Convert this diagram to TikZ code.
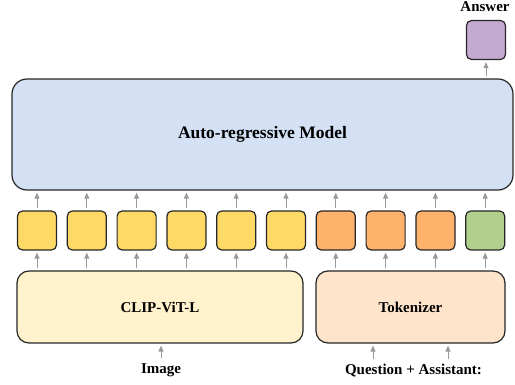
\documentclass[tikz,border=0pt]{standalone}
\usepackage{fontspec}
\setmainfont{Liberation Serif}
\usepackage{tikz}
\usetikzlibrary{arrows.meta}
\definecolor{modelblue}{HTML}{D4E1F4}
\definecolor{clipyellow}{HTML}{FFF2CC}
\definecolor{tokpeach}{HTML}{FFE4CC}
\definecolor{imgtok}{HTML}{FFD966}
\definecolor{txttok}{HTML}{FFB26B}
\definecolor{asstok}{HTML}{B1CF8D}
\definecolor{anstok}{HTML}{C4A9D1}
\definecolor{arrowgray}{HTML}{9A9A9A}

\begin{document}
\begin{tikzpicture}[x=1pt,y=-1pt,
  blk/.style={draw=black!85, line width=1.2pt, inner sep=0pt, font=\fontsize{15}{18}\selectfont\bfseries},
  tok/.style={blk, rounded corners=5pt, minimum size=39pt},
  lbl/.style={font=\fontsize{15}{18}\selectfont\bfseries},
  arr/.style={draw=arrowgray, line width=1pt, -{Triangle[length=6pt,width=5pt]}, shorten >=2pt, shorten <=2pt}]
\useasboundingbox (0,0) rectangle (515,385);
\node [blk, fill=modelblue, rounded corners=15pt, minimum width=501pt, minimum height=111pt, font=\fontsize{17.5}{20}\selectfont\bfseries] (model) at (262.5,134.5) {Auto-regressive Model};
\node [blk, fill=clipyellow, rounded corners=12pt, minimum width=286pt, minimum height=72pt] (clip) at (160,307) {CLIP-ViT-L};
\node [blk, fill=tokpeach, rounded corners=12pt, minimum width=189pt, minimum height=72pt] (tokenizer) at (410.5,307) {Tokenizer};
\node [tok, fill=anstok] (ans) at (486,40) {};
\node [lbl] (anslabel) at (485,7) {Answer};
\node [lbl] (img) at (161,370) {Image};
\node [lbl] (question) at (413.5,371) {Question + Assistant:};
\coordinate (q1) at (373,361);
\coordinate (q2) at (448,361);
% token row
\foreach \i/\c in {1/imgtok,2/imgtok,3/imgtok,4/imgtok,5/imgtok,6/imgtok,7/txttok,8/txttok,9/txttok,10/asstok}
  \node [tok, fill=\c] (t\i) at ({37+49.8*(\i-1)},230.5) {};
% arrows
\foreach \i in {1,...,10}
  \draw [arr] (t\i.north) -- (t\i.north |- model.south);
\foreach \i in {1,...,6}
  \draw [arr] (clip.north -| t\i) -- (t\i.south);
\foreach \i in {7,...,10}
  \draw [arr] (tokenizer.north -| t\i) -- (t\i.south);
\draw [arr] (model.north -| ans) -- (ans.south);
\draw [arr] (img.north) -- (clip.south -| img);
\draw [arr] (q1) -- (q1 |- tokenizer.south);
\draw [arr] (q2) -- (q2 |- tokenizer.south);
\end{tikzpicture}
\end{document}
